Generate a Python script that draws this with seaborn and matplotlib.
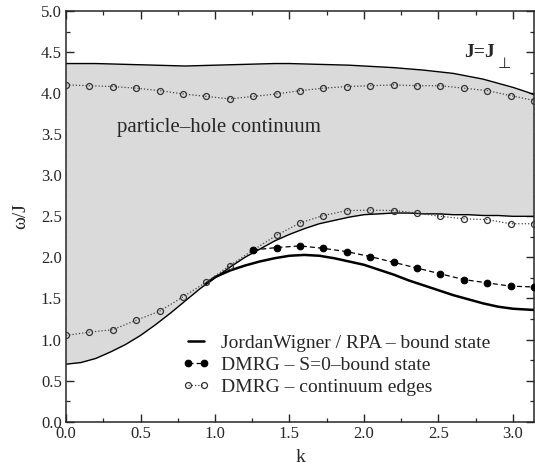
import numpy as np
import matplotlib
matplotlib.use("Agg")
import matplotlib.pyplot as plt
import seaborn as sns

# continuum edges (Jordan-Wigner / RPA), read on a k grid
k_edge = [0.0, 0.1, 0.2, 0.3, 0.4, 0.5, 0.6, 0.7, 0.8, 0.9, 1.0, 1.1, 1.2, 1.3, 1.4, 1.5,
          1.6, 1.7, 1.8, 1.9, 2.0, 2.1, 2.2, 2.3, 2.4, 2.5, 2.6, 2.7, 2.8, 2.9, 3.0, 3.1, np.pi]
lower_edge = [0.70, 0.72, 0.77, 0.85, 0.94, 1.05, 1.18, 1.32, 1.47, 1.62, 1.75, 1.88, 2.00,
              2.10, 2.20, 2.28, 2.35, 2.41, 2.45, 2.49, 2.52, 2.53, 2.54, 2.54, 2.53, 2.53,
              2.52, 2.52, 2.51, 2.51, 2.50, 2.50, 2.50]
upper_edge = [4.36, 4.36, 4.36, 4.355, 4.35, 4.345, 4.34, 4.335, 4.33, 4.335, 4.34, 4.345,
              4.35, 4.355, 4.36, 4.36, 4.355, 4.35, 4.345, 4.34, 4.33, 4.32, 4.31, 4.295,
              4.28, 4.26, 4.24, 4.205, 4.17, 4.12, 4.07, 4.01, 3.98]

# bound state (Jordan-Wigner / RPA)
k_bound = [0.94, 1.0, 1.1, 1.2, 1.3, 1.4, 1.5, 1.6, 1.7, 1.8, 1.9, 2.0, 2.1, 2.2, 2.3, 2.4,
           2.5, 2.6, 2.7, 2.8, 2.9, 3.0, np.pi]
w_bound = [1.68, 1.76, 1.84, 1.90, 1.95, 1.99, 2.02, 2.03, 2.02, 1.99, 1.95, 1.91, 1.85,
           1.79, 1.72, 1.66, 1.60, 1.54, 1.49, 1.44, 1.40, 1.375, 1.36]

# DMRG points at k = n*pi/20
n_dmrg = np.arange(21)
k_dmrg = n_dmrg * np.pi / 20
dmrg_upper = [4.10, 4.09, 4.08, 4.06, 4.03, 3.99, 3.96, 3.93, 3.96, 3.99, 4.03, 4.06, 4.08,
              4.09, 4.10, 4.09, 4.09, 4.06, 4.03, 3.97, 3.91]
dmrg_lower = [1.05, 1.09, 1.12, 1.235, 1.345, 1.52, 1.70, 1.90, 2.09, 2.27, 2.42, 2.51, 2.57,
              2.575, 2.57, 2.54, 2.50, 2.47, 2.46, 2.41, 2.41]
k_s0 = k_dmrg[8:]
dmrg_s0 = [2.09, 2.12, 2.14, 2.11, 2.07, 2.01, 1.94, 1.87, 1.80, 1.73, 1.69, 1.65, 1.64]

sns.set_style("ticks")
plt.rcParams["font.family"] = ["Liberation Serif", "DejaVu Serif"]
plt.rcParams["axes.linewidth"] = 1.1

fig = plt.figure(figsize=(5.35, 4.73), dpi=100)
ax = fig.add_axes([0.1234, 0.1085, 0.8748, 0.8683])

ax.fill_between(k_edge, lower_edge, upper_edge, color="#dadada", lw=0, zorder=1)
ax.plot(k_edge, lower_edge, color="k", lw=1.0, zorder=2)
ax.plot(k_edge, upper_edge, color="k", lw=1.0, zorder=2)

sns.lineplot(x=k_bound, y=w_bound, ax=ax, color="k", lw=1.8, zorder=3,
             label="JordanWigner / RPA \u2013 bound state")
sns.lineplot(x=k_s0, y=dmrg_s0, ax=ax, color="k", lw=0.9, ls=(0, (4, 2.5)), marker="o",
             markersize=4.8, markerfacecolor="k", markeredgecolor="k", zorder=5,
             label="DMRG \u2013 S=0\u2013bound state")
sns.lineplot(x=k_dmrg, y=dmrg_upper, ax=ax, color="#444444", lw=0.9, ls=(0, (1, 1.6)),
             marker="o", markersize=4.3, markerfacecolor="none", markeredgecolor="#333333",
             markeredgewidth=0.9, zorder=4, label="DMRG \u2013 continuum edges")
sns.lineplot(x=k_dmrg, y=dmrg_lower, ax=ax, color="#444444", lw=0.9, ls=(0, (1, 1.6)),
             marker="o", markersize=4.3, markerfacecolor="none", markeredgecolor="#333333",
             markeredgewidth=0.9, zorder=4)

ax.set_xlim(0, np.pi)
ax.set_ylim(0, 5)
ax.set_xticks(np.arange(0, 3.01, 0.5))
ax.set_xticks(np.arange(0.25, 3.2, 0.5), minor=True)
ax.set_yticks(np.arange(0, 5.01, 0.5))
ax.set_yticks(np.arange(0.25, 5.0, 0.5), minor=True)
ax.set_xticklabels(["%.1f" % v for v in np.arange(0, 3.01, 0.5)])
ax.set_yticklabels(["%.1f" % v for v in np.arange(0, 5.01, 0.5)])
ax.tick_params(which="both", direction="in", top=True, right=True, labelsize=12, pad=3)
ax.tick_params(which="major", length=5.5, width=1.0)
ax.tick_params(which="minor", length=3, width=0.9)

ax.set_xlabel("k", fontsize=14, labelpad=5)
ax.set_ylabel("\u03c9/J", fontsize=14, labelpad=8)

ax.text(0.34, 3.58, "particle\u2013hole continuum", fontsize=15, va="center", ha="left")
ax.text(2.67, 4.49, "J=J", fontsize=14, fontweight="bold", va="center", ha="left")
ax.text(2.94, 4.36, "\u22a5", fontsize=11, va="center", ha="center",
        family=["DejaVu Sans"])

leg = ax.legend(loc="lower left", bbox_to_anchor=(0.22, 0.03), frameon=False, fontsize=14,
                handlelength=1.4, handletextpad=0.6, labelspacing=0.22, numpoints=2,
                borderpad=0.2)

fig.savefig("out.png", dpi=100)
